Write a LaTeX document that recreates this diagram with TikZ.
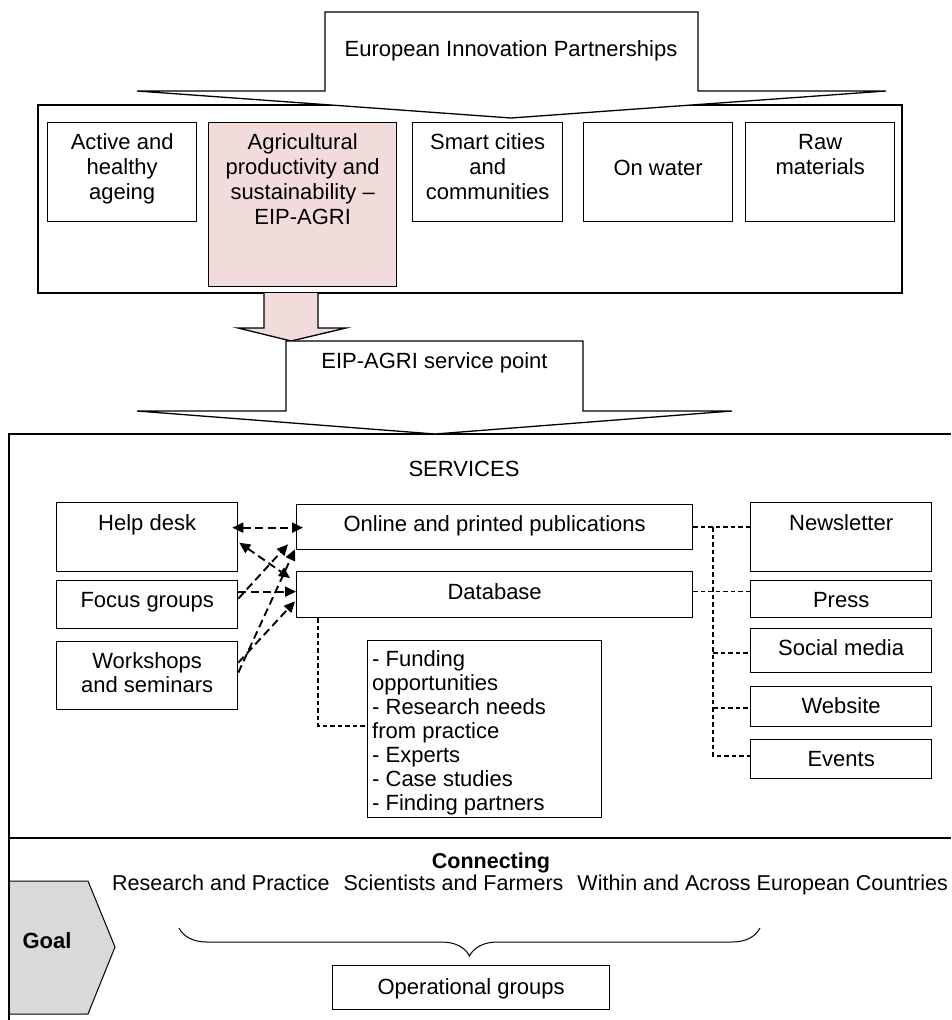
\documentclass[tikz,border=0pt]{standalone}
\usepackage{fontspec}
\setmainfont{Liberation Sans}
\usetikzlibrary{arrows.meta,decorations.pathreplacing,calc}
\definecolor{pinkfill}{HTML}{F2DCDB}
\definecolor{goalgray}{HTML}{D9D9D9}
\tikzset{
  box/.style={draw=black, line width=1.3pt, fill=white, inner sep=0pt, anchor=north west},
  txt/.style={inner sep=0pt, align=center, anchor=base, font=\fontsize{22}{25.3}\selectfont},
  smalltxt/.style={inner sep=0pt, anchor=base west, font=\fontsize{21.5}{24}\selectfont},
  outline/.style={draw=black, line width=1.3pt},
  darrow/.style={draw=black, line width=1.9pt, dash pattern=on 8pt off 4.5pt, -{Triangle[length=11pt,width=10pt]}},
  ddarrow/.style={draw=black, line width=1.9pt, dash pattern=on 8pt off 4.5pt, {Triangle[length=11pt,width=10pt]}-{Triangle[length=11pt,width=10pt]}},
  thindash/.style={draw=black, line width=1.1pt, dash pattern=on 4.5pt off 3pt},
}
\begin{document}
\begin{tikzpicture}[x=1pt,y=-1pt]
\useasboundingbox (0,0) rectangle (951,1020);

% ---------- top section ----------
\draw[outline] (38,105) rectangle (902,293);
\draw[outline, fill=white] (325,12) -- (698,12) -- (698,91) -- (886,91) -- (511,118) -- (137,91) -- (325,91) -- cycle;
\node[txt] (eiptitle) at (511,56) {European Innovation Partnerships};

\node[box, minimum width=149pt, minimum height=99pt] (active) at (47,122) {};
\node[box, fill=pinkfill, minimum width=188pt, minimum height=164pt] (agri) at (208,122) {};
\node[box, minimum width=150pt, minimum height=99pt] (smart) at (412,122) {};
\node[box, minimum width=149pt, minimum height=99pt] (water) at (583,122) {};
\node[box, minimum width=149pt, minimum height=99pt] (raw) at (745,122) {};

% (multi-line nodes: base anchor = baseline of the last line)
\node[txt] (activet) at (active.north |- 0,199.6) {Active and\\healthy\\ageing};
\node[txt] (agrit) at (agri.north |- 0,224.9) {Agricultural\\productivity and\\sustainability –\\EIP-AGRI};
\node[txt] (smartt) at (smart.north |- 0,199.6) {Smart cities\\and\\communities};
\node[txt] (watert) at (water.north |- 0,175) {On water};
\node[txt] (rawt) at (raw.north |- 0,174.3) {Raw\\materials};

% pink arrow
\draw[outline, fill=pinkfill] (264,293) -- (264,328) -- (238,328) -- (291,341) -- (346,328) -- (318,328) -- (318,293);

% ---------- services frame ----------
\draw[outline] (951,434) -- (9,434) -- (9,1020);
\draw[outline] (9,838) -- (951,838);

% service point arrow
\draw[outline, fill=white] (286,341) -- (583,341) -- (583,411) -- (732,411) -- (435,434) -- (137,411) -- (286,411) -- cycle;
\node[txt] (spt) at (434.5,368) {EIP-AGRI service point};

\node[txt] (services) at (464,476) {SERVICES};

% left boxes
\node[box, minimum width=181pt, minimum height=69pt] (help) at (56,502) {};
\node[txt] (helpt) at (help.north |- 0,530) {Help desk};
\node[box, minimum width=181pt, minimum height=48pt] (focus) at (56,580) {};
\node[txt] (focust) at (focus.north |- 0,607) {Focus groups};
\node[box, minimum width=181pt, minimum height=68pt] (work) at (56,641) {};
\node[txt, font=\fontsize{22}{24}\selectfont] (workt) at (work.north |- 0,692) {Workshops\\and seminars};

% middle boxes
\node[box, minimum width=396pt, minimum height=45pt] (online) at (296,504) {};
\node[txt] (onlinet) at (online.north |- 0,531) {Online and printed publications};
\node[box, minimum width=396pt, minimum height=46pt] (db) at (296,571) {};
\node[txt] (dbt) at (db.north |- 0,599) {Database};
\node[box, minimum width=234pt, minimum height=177pt] (list) at (367,640) {};
\node[inner sep=0pt, anchor=base west, align=left, font=\fontsize{22}{24}\selectfont] (listt) at (372,810)
  {- Funding\\opportunities\\- Research needs\\from practice\\- Experts\\- Case studies\\- Finding partners};

% right boxes
\node[box, minimum width=181pt, minimum height=69pt] (news) at (750,502) {};
\node[txt] (newst) at (news.north |- 0,530) {Newsletter};
\node[box, minimum width=181pt, minimum height=37pt] (press) at (750,580) {};
\node[txt] (presst) at (press.north |- 0,607) {Press};
\node[box, minimum width=181pt, minimum height=44pt] (social) at (750,628) {};
\node[txt] (socialt) at (social.north |- 0,655) {Social media};
\node[box, minimum width=181pt, minimum height=40pt] (web) at (750,686) {};
\node[txt] (webt) at (web.north |- 0,713) {Website};
\node[box, minimum width=181pt, minimum height=39pt] (events) at (750,739) {};
\node[txt] (eventst) at (events.north |- 0,766) {Events};

% dashed arrows on the left
\draw[ddarrow] ($(help.east)+(-6,-9.5)$) -- ($(online.west)+(7,0.5)$);
\draw[ddarrow] ($(help.east)+(1,5.5)$) -- ($(db.north west)+(-6,7)$);
\draw[darrow] ($(focus.east)+(0,-13)$) -- ($(db.west)+(0,-3)$);
\draw[darrow] ($(focus.east)+(0,-6)$) -- ($(online.south west)+(-8,-6)$);
\draw[darrow] ($(work.east)+(0,-13)$) -- ($(db.south west)+(-1,-17)$);
\draw[darrow] ($(work.east)+(0,-3)$) -- ($(online.south west)+(-1,-1)$);

% thin dashed connectors
\coordinate (busTop) at (713,527);
\coordinate (busBot) at (713,756);
\coordinate (dbdrop) at (318,726);
\draw[thindash] (online.east |- busTop) -- (news.west |- busTop);
\draw[thindash] ($(db.east)+(0,-3)$) -- ($(press.west)+(0,-7.5)$);
\draw[thindash] (busTop) -- (busBot) -- (events.west |- busBot);
\draw[thindash] (713,653) -- (social.west |- 0,653);
\draw[thindash] (713,708) -- (web.west |- 0,708);
\draw[thindash] (db.south west -| dbdrop) -- (dbdrop) -- (list.west |- dbdrop);

% ---------- goal section ----------
\node[inner sep=0pt, anchor=base, font=\fontsize{21.5}{24}\selectfont\bfseries] (conn) at (491,868) {Connecting};
\node[smalltxt] (goals) at (112,890)
  {Research and Practice\hspace{14pt}Scientists and Farmers\hspace{14pt}Within and Across European Countries};

\draw[draw=black, fill=goalgray, line width=1pt] (9,881) -- (88,881) -- (115,947) -- (88,1014) -- (9,1014);
\draw[outline] (9,838) -- (9,1020);
\node[inner sep=0pt, anchor=base, font=\fontsize{22}{24}\selectfont\bfseries] (goal) at (47,948) {Goal};

\coordinate (braceR) at (760,928);
\coordinate (braceL) at (179,928);
\draw[line width=1pt, decorate, decoration={brace, amplitude=28pt}] (braceR) -- (braceL);

\node[box, minimum width=277pt, minimum height=44pt] (ops) at (332,965) {};
\node[txt] (opst) at (ops.north |- 0,994) {Operational groups};
\end{tikzpicture}
\end{document}
